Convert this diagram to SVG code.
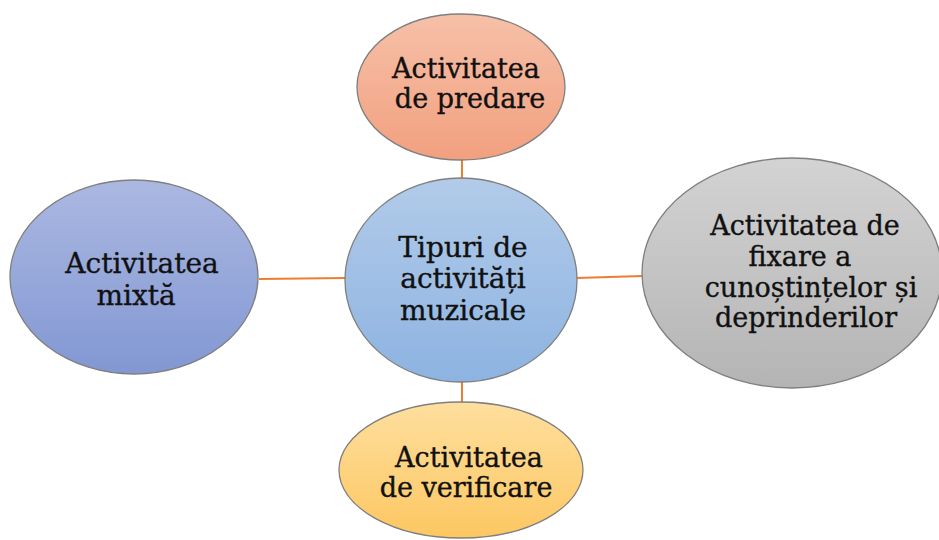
<svg xmlns="http://www.w3.org/2000/svg" width="939" height="540" viewBox="0 0 939 540">
<defs>
<linearGradient id="gTop" x1="0" y1="0" x2="0" y2="1"><stop offset="0" stop-color="#f6c0a8"/><stop offset="1" stop-color="#f2a07f"/></linearGradient>
<linearGradient id="gCenter" x1="0" y1="0" x2="0" y2="1"><stop offset="0" stop-color="#b2cbe9"/><stop offset="1" stop-color="#8db3e1"/></linearGradient>
<linearGradient id="gLeft" x1="0" y1="0" x2="0" y2="1"><stop offset="0" stop-color="#abb8e1"/><stop offset="1" stop-color="#8297d3"/></linearGradient>
<linearGradient id="gRight" x1="0" y1="0" x2="0" y2="1"><stop offset="0" stop-color="#d3d3d3"/><stop offset="1" stop-color="#b4b4b4"/></linearGradient>
<linearGradient id="gBottom" x1="0" y1="0" x2="0" y2="1"><stop offset="0" stop-color="#fedf9e"/><stop offset="1" stop-color="#fdc762"/></linearGradient>
</defs>
<style>
.node ellipse{stroke:#7f7f7f;stroke-width:1.3}
.node text{font-family:"DejaVu Serif","Liberation Serif",serif;font-size:27px;fill:#111;stroke:#111;stroke-width:0.35;text-anchor:middle}
.node text.big{font-size:28px}
.conn line{stroke:#ed7d31;stroke-width:2}
</style>
<rect width="939" height="540" fill="#ffffff"/>
<g id="connectors" class="conn">
<line x1="462" y1="160" x2="462" y2="179"/>
<line x1="462" y1="381" x2="462" y2="403"/>
<line x1="259" y1="279" x2="346" y2="278"/>
<line x1="576" y1="278" x2="643" y2="276"/>
</g>
<g id="node-top" class="node">
<ellipse cx="461" cy="87" rx="104" ry="73" fill="url(#gTop)"/>
<text x="466" y="78">Activitatea</text>
<text x="470" y="108">de predare</text>
</g>
<g id="node-center" class="node">
<ellipse cx="461" cy="280" rx="116" ry="102" fill="url(#gCenter)"/>
<text class="big" x="463" y="257">Tipuri de</text>
<text class="big" x="463" y="288">activități</text>
<text class="big" x="463" y="320">muzicale</text>
</g>
<g id="node-left" class="node">
<ellipse cx="134" cy="277" rx="124" ry="97" fill="url(#gLeft)"/>
<text class="big" x="142" y="273">Activitatea</text>
<text class="big" x="136" y="305">mixtă</text>
</g>
<g id="node-right" class="node">
<ellipse cx="792" cy="273" rx="150" ry="115" fill="url(#gRight)"/>
<text x="805" y="235">Activitatea de</text>
<text x="800" y="266">fixare a</text>
<text x="811" y="297">cunoștințelor și</text>
<text x="806" y="327">deprinderilor</text>
</g>
<g id="node-bottom" class="node">
<ellipse cx="461" cy="470" rx="122" ry="68" fill="url(#gBottom)"/>
<text x="469" y="467">Activitatea</text>
<text x="466" y="497">de verificare</text>
</g>
</svg>
